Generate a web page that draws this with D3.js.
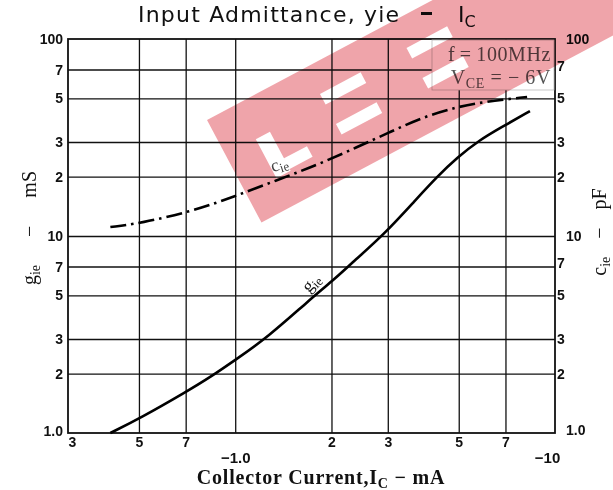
<!DOCTYPE html>
<html>
<head>
  <meta charset="utf-8">
  <title>Input Admittance, yie - Ic</title>
  <style>
    body { margin: 0; background: #fff; }
    svg { display: block; }
    .grid line { stroke: #111; stroke-width: 1.3px; }
    .grid path { stroke: none; }
    .tick-lbl text { font-family: "Liberation Sans", Arial, sans-serif; font-weight: bold; font-size: 14px; fill: #111; }
    .tick-lbl path, .tick-lbl line { stroke: none; }
    .serif { font-family: "Liberation Serif", "Times New Roman", serif; }
  </style>
</head>
<body>
  <svg width="613" height="490"></svg>

  <script src="https://d3js.org/d3.v7.min.js"></script>
  <script>
    // collector current (mA, magnitude) and values
    var gieCurrent = [0.407, 0.505, 0.708, 0.835, 1.0, 1.26, 1.71, 2.01, 2.34, 2.94, 3.66, 4.28, 4.94, 5.83, 6.73, 8.35];
    var gieValues  = [1.0,   1.19,  1.63,  1.92,  2.35, 3.05, 4.75, 5.9,  7.4,  10.3, 15.2, 20.0, 25.0, 30.8, 35.3, 43.1];

    var cieCurrent = [0.407, 0.505, 0.739, 0.986, 1.35, 1.80, 2.41, 3.05, 3.87, 4.94, 5.96, 8.18];
    var cieValues  = [11.1,  11.6,  13.4,  15.8,  19.2, 22.9, 28.3, 33.7, 40.2, 45.2, 47.9, 50.8];

    var xGrid = [0.5, 0.7, 1, 2, 3, 5, 7];
    var xTicks = [0.3, 0.5, 0.7, 1, 2, 3, 5, 7, 10];
    var xTickLabels = ["3", "5", "7", "\u22121.0", "2", "3", "5", "7", "\u221210"];

    var yGrid = [2, 3, 5, 7, 10, 20, 30, 50, 70];
    var yTicks = [1, 2, 3, 5, 7, 10, 20, 30, 50, 70, 100];
    var yTickLabels = ["1.0", "2", "3", "5", "7", "10", "2", "3", "5", "7", "100"];

    var pLeft = 68, pRight = 555, pTop = 39, pBottom = 433;

    var svg = d3.select("svg");

    var x = d3.scaleLog().domain([0.3, 10]).range([pLeft, pRight]);
    var y = d3.scaleLog().domain([1, 100]).range([pBottom, pTop]);

    // grid
    svg.append("g")
      .attr("class", "grid")
      .attr("transform", "translate(0," + pBottom + ")")
      .call(d3.axisBottom(x).tickValues(xGrid).tickSize(-(pBottom - pTop)).tickFormat(""));

    svg.append("g")
      .attr("class", "grid")
      .attr("transform", "translate(" + pLeft + ",0)")
      .call(d3.axisLeft(y).tickValues(yGrid).tickSize(-(pRight - pLeft)).tickFormat(""));

    // frame
    svg.append("rect")
      .attr("x", pLeft).attr("y", pTop)
      .attr("width", pRight - pLeft).attr("height", pBottom - pTop)
      .attr("fill", "none").attr("stroke", "#111").attr("stroke-width", 1.8);

    // condition box (white, hides the grid behind it)
    svg.append("rect")
      .attr("x", 432).attr("y", pTop + 1)
      .attr("width", pRight - 432 - 1).attr("height", 50)
      .attr("fill", "#fff").attr("stroke", "#bbb").attr("stroke-width", 0.8);

    var cond = svg.append("g").attr("class", "serif").attr("fill", "#555")
      .attr("text-anchor", "end").attr("letter-spacing", 0.6);
    cond.append("text").attr("x", 551).attr("y", 61).attr("font-size", 20).text("f\u2009=\u2009100MHz");
    var vce = cond.append("text").attr("x", 551).attr("y", 84).attr("font-size", 20);
    vce.append("tspan").text("V");
    vce.append("tspan").attr("font-size", 14).attr("dy", 4).text("CE");
    vce.append("tspan").attr("dy", -4).text(" = \u2212 6V");

    // x labels
    var xl = svg.append("g")
      .attr("class", "tick-lbl")
      .attr("transform", "translate(0," + pBottom + ")")
      .call(d3.axisBottom(x).tickValues(xTicks).tickSize(0).tickPadding(4)
        .tickFormat(function (d, i) { return xTickLabels[i]; }));
    xl.selectAll(".tick text")
      .attr("dy", function (d) { return (d === 1 || d === 10) ? "1.75em" : "0.71em"; })
      .attr("dx", function (d) { return d === 0.3 ? 4 : (d === 10 ? -8 : 0); })
      .style("font-size", function (d) { return (d === 1 || d === 10) ? "15px" : "14px"; });

    // left labels
    svg.append("g")
      .attr("class", "tick-lbl")
      .attr("transform", "translate(" + pLeft + ",0)")
      .call(d3.axisLeft(y).tickValues(yTicks).tickSize(0).tickPadding(5)
        .tickFormat(function (d, i) { return yTickLabels[i]; }))
      .selectAll(".tick text")
      .attr("dy", function (d) { return d === 1 ? "0.15em" : "0.32em"; });

    // right labels
    var rl = svg.append("g")
      .attr("class", "tick-lbl")
      .attr("transform", "translate(" + pRight + ",0)")
      .call(d3.axisRight(y).tickValues(yTicks).tickSize(0).tickPadding(2)
        .tickFormat(function (d, i) { return yTickLabels[i]; }));
    rl.selectAll(".tick text")
      .attr("dx", function (d) { return (d === 1 || d === 10 || d === 100) ? 9 : 0; })
      .attr("dy", function (d) { return d === 1 ? "0.1em" : (d === 70 || d === 7 ? "0.1em" : "0.32em"); });

    // curves
    var line = d3.line()
      .x(function (d) { return x(d[0]); })
      .y(function (d) { return y(d[1]); })
      .curve(d3.curveBasis);

    svg.append("path")
      .datum(d3.zip(gieCurrent, gieValues))
      .attr("d", line)
      .attr("fill", "none").attr("stroke", "#000").attr("stroke-width", 2.6);

    svg.append("path")
      .datum(d3.zip(cieCurrent, cieValues))
      .attr("d", line)
      .attr("fill", "none").attr("stroke", "#000").attr("stroke-width", 2.6)
      .attr("stroke-dasharray", "16,5,2.5,5");

    // curve labels
    var cl = svg.append("text").attr("class", "serif").attr("font-size", 18).attr("fill", "#444")
      .attr("transform", "translate(" + (x(1.33) - 2) + "," + (y(19.2) - 8) + ") rotate(-18)");
    cl.append("tspan").text("c");
    cl.append("tspan").attr("font-size", 13).attr("dy", 3).text("ie");

    var gl = svg.append("text").attr("class", "serif").attr("font-size", 18).attr("fill", "#111")
      .attr("transform", "translate(" + (x(1.75) - 4) + "," + (y(5.0) - 2) + ") rotate(-47)");
    gl.append("tspan").text("g");
    gl.append("tspan").attr("font-size", 13).attr("dy", 3).text("ie");

    // title
    var t = svg.append("g")
      .attr("font-family", "'DejaVu Sans', Verdana, sans-serif")
      .attr("fill", "#111");
    t.append("text").attr("x", 138).attr("y", 22)
      .attr("font-size", 22).attr("letter-spacing", 1.2)
      .text("Input Admittance, yie");
    t.append("rect").attr("x", 421).attr("y", 12).attr("width", 11).attr("height", 3);
    var ic = t.append("text").attr("x", 458).attr("y", 22).attr("font-size", 22);
    ic.append("tspan").text("I");
    ic.append("tspan").attr("font-size", 16).attr("dy", 5).text("C");

    // axis titles
    var xt = svg.append("text").attr("class", "serif")
      .attr("x", 321).attr("y", 484).attr("text-anchor", "middle")
      .attr("font-size", 20).attr("font-weight", "bold").attr("letter-spacing", 0.8)
      .attr("fill", "#111");
    xt.append("tspan").text("Collector Current,I");
    xt.append("tspan").attr("font-size", 14).attr("dy", 4).text("C");
    xt.append("tspan").attr("dy", -4).text(" \u2212 mA");

    var yt = svg.append("text").attr("class", "serif")
      .attr("transform", "translate(36,228) rotate(-90)").attr("text-anchor", "middle")
      .attr("font-size", 20).attr("fill", "#111");
    yt.append("tspan").text("g");
    yt.append("tspan").attr("font-size", 14).attr("dy", 4).text("ie");
    yt.append("tspan").attr("dy", -4).attr("dx", 28).text("\u2212");
    yt.append("tspan").attr("dx", 28).text("mS");

    var yt2 = svg.append("text").attr("class", "serif")
      .attr("transform", "translate(606,232) rotate(-90)").attr("text-anchor", "middle")
      .attr("font-size", 20).attr("fill", "#111");
    yt2.append("tspan").text("c");
    yt2.append("tspan").attr("font-size", 14).attr("dy", 4).text("ie");
    yt2.append("tspan").attr("dy", -4).attr("dx", 18).text("\u2212");
    yt2.append("tspan").attr("dx", 18).text("pF");

    // red watermark band with letter gaps
    var holes = [[34, 40, 16, 44], [50, 70, 26, 12], [112, 30, 46, 12], [112, 64, 46, 12],
                 [210, 30, 46, 12], [210, 64, 46, 12]];
    var bandPath = "M0,0H560V116H0Z";
    holes.forEach(function (h) {
      bandPath += "M" + h[0] + "," + h[1] + "h" + h[2] + "v" + h[3] + "h" + (-h[2]) + "Z";
    });
    svg.append("path")
      .attr("d", bandPath)
      .attr("fill-rule", "evenodd")
      .attr("transform", "translate(207,120) rotate(-28)")
      .attr("fill", "rgb(225,90,100)").attr("fill-opacity", 0.55)
      .style("mix-blend-mode", "multiply");
  </script>
</body>
</html>
